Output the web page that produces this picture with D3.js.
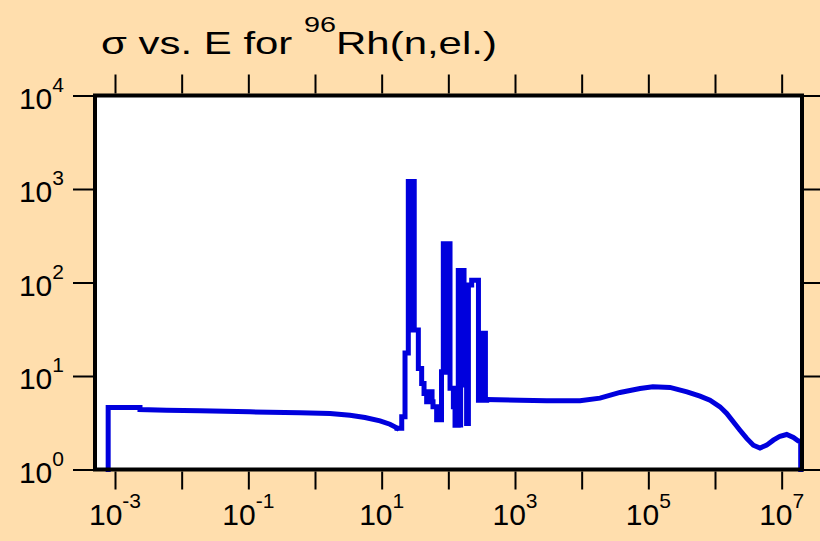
<!DOCTYPE html>
<html>
<head>
<meta charset="utf-8">
<script src="https://cdn.jsdelivr.net/npm/d3@7"></script>
<style>
  body { margin: 0; background: #FFDEAD; }
  svg { display: block; }
  text { font-family: "Liberation Sans", Arial, sans-serif; fill: #000; }
</style>
</head>
<body>
<script>
'use strict';

// neutron energy (eV) of each read point / step edge
const energy = [
  7.9e-4, 7.9e-4, 2.37e-3, 2.37e-3, 5.96e-3, 1.88e-2, 0.106, 0.596, 1.68, 3.35, 5.62, 9.44, 13.3, 15.8, 17,
  20, 22.4, 25.1, 26.9, 28.8, 30.8, 31.6, 35.5, 39.8, 43.2, 47.3, 50, 52.5, 55, 57, 58.9, 66.8,
  79, 84.1, 88, 92, 96, 100, 106, 119, 126, 141, 147, 153, 160, 166, 172, 188, 200, 224, 283,
  292, 305, 318, 332, 346, 360, 376, 1190, 3000, 9440, 1.88e4, 3.76e4, 7.5e4, 1.17e5, 2.11e5,
  3.8e5, 5.96e5, 8.41e5, 1.19e6, 1.5e6, 1.88e6, 2.37e6, 2.99e6, 3.76e6, 4.73e6, 5.96e6, 7.5e6,
  9.44e6, 1.19e7, 1.5e7, 1.78e7, 1.93e7, 1.93e7
];

// elastic cross section (b)
const sigma = [
  1, 4.59, 4.59, 4.37, 4.31, 4.24, 4.14, 4.04, 3.98, 3.81, 3.6, 3.31, 3.05, 2.86, 2.77,
  3.66, 17.6, 1200, 31, 1200, 31, 31, 12, 8.3, 6.5, 5.3, 6.8, 5.3, 6.8, 5.3, 4.68, 3.4,
  11.1, 260, 11, 260, 11, 260, 7.4, 4.7, 2.98, 134, 3.0, 134, 8, 134, 8, 3.1, 94, 106, 5.5,
  28.6, 5.5, 28.6, 5.5, 28.6, 5.5, 5.6, 5.5, 5.45, 5.43, 5.8, 6.67, 7.36, 7.66, 7.55,
  6.77, 6.1, 5.52, 4.68, 3.98, 3.24, 2.63, 2.15, 1.82, 1.7, 1.82, 2.06,
  2.27, 2.37, 2.2, 2.02, 1.98, 1
];

// resonance region drawn as histogram steps, the rest as a smooth line
const resonanceRange = [17, 376];

const xTickExps = [-3, -2, -1, 0, 1, 2, 3, 4, 5, 6, 7];
const xLabelExps = [-3, -1, 1, 3, 5, 7];
const yTickExps = [0, 1, 2, 3, 4];

(function() {

  const width = 820, height = 541;
  const pLeft = 95, pRight = 802, pTop = 95.5, pBottom = 469.5;

  let svg = d3.select('body')
    .append('svg')
    .attr('width', width)
    .attr('height', height);

  svg.append('rect')
    .attr('width', width)
    .attr('height', height)
    .attr('fill', '#FFDEAD');

  // log scales for energy and cross section
  let x = d3.scaleLog()
    .domain([Math.pow(10, -3.3), Math.pow(10, 7.305)])
    .range([pLeft, pRight]);

  let y = d3.scaleLog()
    .domain([1, 1e4])
    .range([pBottom, pTop]);

  svg.append('rect')
    .attr('x', pLeft)
    .attr('y', pTop)
    .attr('width', pRight - pLeft)
    .attr('height', pBottom - pTop)
    .attr('fill', '#fff');

  // split the data into smooth / stepped / smooth pieces
  let data = energy.map((e, i) => [e, sigma[i]]);
  let lo = resonanceRange[0], hi = resonanceRange[1];
  let pieces = [
    { pts: data.filter((d) => d[0] <= lo), curve: d3.curveLinear },
    { pts: data.filter((d) => d[0] >= lo && d[0] <= hi), curve: d3.curveStepAfter },
    { pts: data.filter((d) => d[0] >= hi), curve: d3.curveLinear }
  ];

  pieces.forEach((p) => {
    let line = d3.line()
      .x((d) => x(d[0]))
      .y((d) => y(d[1]))
      .curve(p.curve);
    svg.append('path')
      .datum(p.pts)
      .attr('d', line)
      .attr('fill', 'none')
      .attr('stroke', '#0000dd')
      .attr('stroke-width', 5)
      .attr('stroke-linejoin', 'miter')
      .attr('stroke-linecap', 'square');
  });

  // frame
  svg.append('rect')
    .attr('x', pLeft)
    .attr('y', pTop)
    .attr('width', pRight - pLeft)
    .attr('height', pBottom - pTop)
    .attr('fill', 'none')
    .attr('stroke', '#000')
    .attr('stroke-width', 4);

  // ticks on all four sides, pointing outwards
  let xTicks = xTickExps.map((e) => Math.pow(10, e));
  let yTicks = yTickExps.map((e) => Math.pow(10, e));

  function styleAxis(g) {
    g.select('.domain').remove();
    g.selectAll('.tick line').attr('stroke', '#000').attr('stroke-width', 2);
  }

  svg.append('g')
    .attr('transform', 'translate(0,' + (pBottom + 2) + ')')
    .call(d3.axisBottom(x).tickValues(xTicks).tickSize(18).tickFormat(''))
    .call(styleAxis);

  svg.append('g')
    .attr('transform', 'translate(0,' + (pTop - 2) + ')')
    .call(d3.axisTop(x).tickValues(xTicks).tickSize(19).tickFormat(''))
    .call(styleAxis);

  svg.append('g')
    .attr('transform', 'translate(' + (pLeft - 2) + ',0)')
    .call(d3.axisLeft(y).tickValues(yTicks).tickSize(20).tickFormat(''))
    .call(styleAxis);

  svg.append('g')
    .attr('transform', 'translate(' + (pRight + 2) + ',0)')
    .call(d3.axisRight(y).tickValues(yTicks).tickSize(20).tickFormat(''))
    .call(styleAxis);

  // x labels: 10 with superscript exponent
  let xLab = svg.selectAll('.xlab')
    .data(xLabelExps)
    .enter()
    .append('text')
    .attr('class', 'xlab')
    .attr('x', (d) => x(Math.pow(10, d)))
    .attr('y', 525)
    .attr('text-anchor', 'middle')
    .style('font-size', '30px');
  xLab.append('tspan').text('10');
  xLab.append('tspan')
    .attr('dy', -17)
    .style('font-size', '21px')
    .text((d) => d);

  // y labels
  let yLab = svg.selectAll('.ylab')
    .data(yTickExps)
    .enter()
    .append('text')
    .attr('class', 'ylab')
    .attr('x', 64)
    .attr('y', (d) => y(Math.pow(10, d)) + 13)
    .attr('text-anchor', 'end')
    .style('font-size', '30px');
  yLab.append('tspan').text('10');
  yLab.append('tspan')
    .attr('dy', -17)
    .style('font-size', '21px')
    .text((d) => d);

  // title, widened a little to the original's span
  let title = svg.append('text')
    .attr('x', 0)
    .attr('y', 0)
    .style('font-size', '32px');
  title.append('tspan').text('σ vs. E for ');
  title.append('tspan').attr('dy', -22).style('font-size', '22px').text('96');
  title.append('tspan').attr('dy', 22).text('Rh(n,el.)');
  let tw = title.node().getBBox().width;
  title.attr('transform', 'translate(101,54) scale(' + (396 / tw) + ',1)');

})();
</script>
</body>
</html>
